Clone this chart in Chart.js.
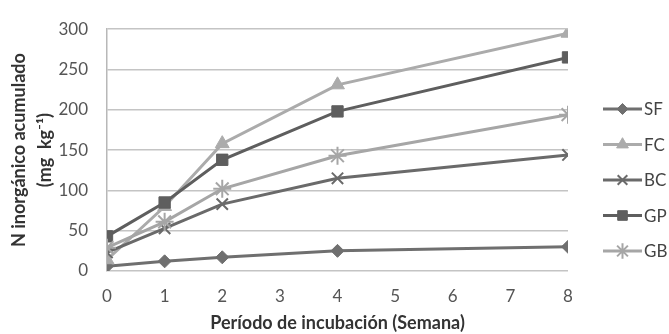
<!DOCTYPE html>
<html>
<head>
<meta charset="utf-8">
<script src="https://cdn.jsdelivr.net/npm/chart.js@4/dist/chart.umd.min.js"></script>
<style>
  html, body { margin: 0; padding: 0; background: #fff; }
  #wrap { width: 669px; height: 334px; }
</style>
</head>
<body>
<div id="wrap"><canvas id="c" width="669" height="334"></canvas></div>
<script>
// Incubation week at which each sample was taken
const weeks = [0, 1, 2, 4, 8];

// Accumulated inorganic N (mg kg-1) per treatment
const SF = [6, 12, 17, 25, 30];
const FC = [14, 80, 158, 231, 295];
const BC = [23, 53, 83, 115, 144];
const GP = [43, 85, 138, 198, 265];
const GB = [29, 61, 102, 143, 194];

const seriesNames = ['SF', 'FC', 'BC', 'GP', 'GB'];
const seriesData = [SF, FC, BC, GP, GB];

const yTicks = [0, 50, 100, 150, 200, 250, 300];
const xTicks = [0, 1, 2, 3, 4, 5, 6, 7, 8];

const FONT = 'Lato, "Open Sans", sans-serif';

const styles = {
  SF: { color: '#6f6f6f', point: 'rectRot', radius: 6.5 },
  FC: { color: '#ababab', point: 'triangle', radius: 8 },
  BC: { color: '#6a6a6a', point: 'crossRot', radius: 8 },
  GP: { color: '#5e5e5e', point: 'rect', radius: 8 },
  GB: { color: '#a6a6a6', point: 'star', radius: 9 }
};

const datasets = seriesNames.map((name, i) => {
  const s = styles[name];
  return {
    label: name,
    data: weeks.map((w, j) => ({ x: w, y: seriesData[i][j] })),
    borderColor: s.color,
    backgroundColor: s.color,
    borderWidth: 3,
    pointStyle: s.point,
    pointRadius: s.radius,
    pointBorderColor: s.color,
    pointBackgroundColor: s.color,
    pointBorderWidth: (s.point === 'crossRot' || s.point === 'star') ? 2 : 1,
    tension: 0,
    order: seriesNames.length - i
  };
});

// Legend on the right: line with marker, then the series name
const sideLegend = {
  id: 'sideLegend',
  afterDraw(chart) {
    const ctx = chart.ctx;
    const x0 = 603, x1 = 642, startY = 109, step = 35.5;
    ctx.save();
    chart.data.datasets.forEach((ds, i) => {
      const y = startY + i * step;
      ctx.strokeStyle = ds.borderColor;
      ctx.lineWidth = 3;
      ctx.beginPath();
      ctx.moveTo(x0, y);
      ctx.lineTo(x1, y);
      ctx.stroke();
      ctx.fillStyle = ds.pointBackgroundColor;
      ctx.strokeStyle = ds.pointBorderColor;
      ctx.lineWidth = ds.pointBorderWidth;
      Chart.helpers.drawPoint(ctx, {
        pointStyle: ds.pointStyle,
        radius: ds.pointRadius * 0.85,
        rotation: 0,
        borderWidth: ds.pointBorderWidth
      }, (x0 + x1) / 2, y);
      ctx.fillStyle = '#444';
      ctx.font = '17px ' + FONT;
      ctx.textAlign = 'left';
      ctx.textBaseline = 'middle';
      ctx.fillText(ds.label, x1 + 2, y + 1);
    });
    ctx.restore();
  }
};

new Chart(document.getElementById('c'), {
  type: 'line',
  data: { datasets },
  plugins: [sideLegend],
  options: {
    responsive: false,
    animation: false,
    layout: { padding: { top: 20, right: 101, left: 0, bottom: 0 } },
    plugins: {
      legend: { display: false },
      tooltip: { enabled: false }
    },
    scales: {
      x: {
        type: 'linear',
        min: 0,
        max: 8,
        afterBuildTicks(scale) { scale.ticks = xTicks.map(v => ({ value: v })); },
        afterFit(scale) { scale.height = 63; },
        grid: { display: false, drawTicks: false },
        border: { display: false },
        ticks: {
          color: '#555',
          padding: 15,
          font: { family: FONT, size: 17 }
        },
        title: {
          display: true,
          text: 'Período de incubación (Semana)',
          color: '#333',
          font: { family: FONT, size: 18, weight: 'bold' },
          padding: { top: 2, bottom: 0 }
        }
      },
      y: {
        min: 0,
        max: 300,
        afterBuildTicks(scale) { scale.ticks = yTicks.map(v => ({ value: v })); },
        afterFit(scale) { scale.width = 107; },
        grid: { color: '#c4c4c4', lineWidth: 1.5, drawTicks: false },
        border: { display: true, color: '#b8b8b8', width: 1.5 },
        ticks: {
          color: '#555',
          padding: 19,
          font: { family: FONT, size: 17 }
        },
        title: {
          display: true,
          text: ['N inorgánico acumulado', '(mg  kg⁻¹)'],
          color: '#333',
          font: { family: FONT, size: 18, weight: 'bold', lineHeight: 1.4 },
          padding: { top: 7, bottom: 0 }
        }
      }
    }
  }
});
</script>
</body>
</html>
